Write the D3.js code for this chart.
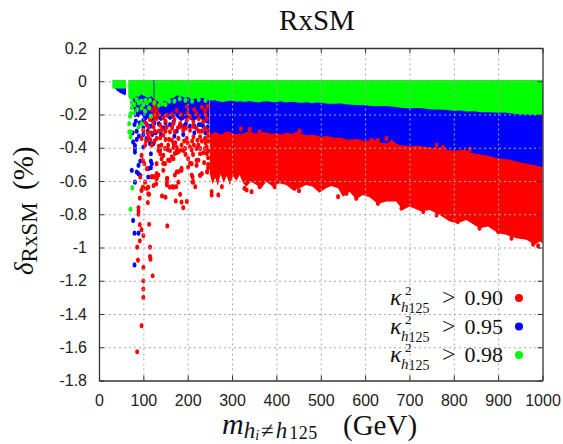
<!DOCTYPE html>
<html>
<head>
<meta charset="utf-8">
<script src="https://d3js.org/d3.v7.min.js"></script>
<style>
  body { margin: 0; background: #fff; }
  .tick text { font-family: "Liberation Sans", sans-serif; font-size: 16px; fill: #222; }
  .serif { font-family: "Liberation Serif", serif; fill: #111; }
</style>
</head>
<body>
<div id="chart"></div>
<script>
//Tick values
var xTicks = [0, 100, 200, 300, 400, 500, 600, 700, 800, 900, 1000];
var yTicks = [0.2, 0, -0.2, -0.4, -0.6, -0.8, -1, -1.2, -1.4, -1.6, -1.8];

//Solid bands, lower edge [mass, delta]
var greenLeft = [[30, -0.044], [61, -0.044]];
var greenMid = [[66, -0.095], [70, -0.11], [74, -0.115], [78, -0.1], [81, -0.105], [85, -0.09], [89, -0.095], [95, -0.08], [100, -0.085], [106, -0.095], [111, -0.1], [118, -0.09], [123, -0.105]];
var greenRight = [[125, -0.105], [132, -0.12], [138, -0.135], [146, -0.118], [153, -0.125], [160, -0.105], [168, -0.1], [175, -0.085], [186, -0.09], [194, -0.1], [201, -0.095], [208, -0.11], [216, -0.105], [228, -0.1], [239, -0.1], [250, -0.118], [262, -0.115], [270, -0.122], [280, -0.125], [290, -0.119], [300, -0.118], [310, -0.124], [318, -0.12], [330, -0.125], [338, -0.119], [345, -0.122], [360, -0.128], [370, -0.122], [380, -0.12], [390, -0.125], [400, -0.126], [410, -0.121], [420, -0.128], [430, -0.125], [440, -0.124], [450, -0.129], [460, -0.13], [470, -0.127], [480, -0.132], [490, -0.128], [500, -0.13], [515, -0.135], [530, -0.136], [545, -0.134], [560, -0.14], [580, -0.143], [600, -0.144], [615, -0.149], [630, -0.15], [645, -0.149], [660, -0.152], [680, -0.16], [700, -0.164], [715, -0.161], [730, -0.162], [745, -0.168], [760, -0.17], [780, -0.172], [800, -0.178], [815, -0.176], [830, -0.182], [845, -0.181], [860, -0.186], [880, -0.187], [900, -0.19], [915, -0.188], [930, -0.194], [945, -0.198], [960, -0.2], [980, -0.201], [1000, -0.204]];
var blueWedge = [[36, -0.044], [40, -0.055], [47, -0.069], [55, -0.08], [59, -0.085], [61, -0.075]];
var blueCluster = [[76, -0.12], [80, -0.19], [88, -0.22], [96, -0.2], [104, -0.24], [112, -0.22], [120, -0.25], [130, -0.22], [140, -0.24], [150, -0.21], [160, -0.235], [172, -0.21], [185, -0.24], [198, -0.22], [212, -0.24], [226, -0.22], [240, -0.25], [249, -0.26]];
var blueRight = [[250, -0.324], [262, -0.305], [275, -0.32], [290, -0.3], [305, -0.318], [318, -0.318], [330, -0.31], [340, -0.3], [350, -0.315], [360, -0.314], [370, -0.305], [380, -0.31], [390, -0.318], [400, -0.31], [410, -0.322], [420, -0.31], [435, -0.316], [450, -0.3], [460, -0.32], [470, -0.325], [485, -0.322], [500, -0.334], [515, -0.33], [530, -0.34], [545, -0.338], [560, -0.352], [580, -0.348], [600, -0.36], [620, -0.35], [635, -0.368], [650, -0.375], [660, -0.35], [670, -0.376], [680, -0.385], [700, -0.39], [720, -0.388], [740, -0.395], [755, -0.402], [770, -0.4], [785, -0.412], [800, -0.418], [825, -0.41], [840, -0.432], [860, -0.44], [880, -0.45], [900, -0.464], [925, -0.47], [950, -0.488], [975, -0.5], [990, -0.51], [1000, -0.518]];
var redRight = [[250, -0.56], [256, -0.62], [262, -0.58], [268, -0.63], [274, -0.56], [281, -0.61], [288, -0.57], [295, -0.625], [302, -0.57], [310, -0.6], [317, -0.564], [325, -0.614], [332, -0.634], [343, -0.604], [355, -0.624], [366, -0.644], [377, -0.604], [392, -0.634], [407, -0.614], [422, -0.624], [437, -0.654], [452, -0.644], [467, -0.624], [482, -0.634], [497, -0.67], [512, -0.644], [524, -0.63], [539, -0.644], [550, -0.694], [565, -0.664], [580, -0.71], [595, -0.684], [610, -0.698], [629, -0.738], [648, -0.724], [670, -0.724], [685, -0.774], [700, -0.754], [727, -0.784], [746, -0.774], [768, -0.804], [791, -0.844], [809, -0.854], [828, -0.834], [858, -0.884], [877, -0.874], [900, -0.914], [918, -0.924], [941, -0.944], [964, -0.954], [982, -0.984], [994, -0.964], [1000, -0.974]];
var bandTop = 0.008;
var redTop = -0.1;

//Scattered points [mass, delta]
var redPoints = [
  [86, -1.627], [96, -1.47], [100, -1.3], [100, -1.25], [100, -1.2], [121, -1.17], [100, -1.12], [88, -1.076], [116, -1.07], [115, -1.054],
  [86, -0.998], [115, -0.998], [92, -0.96], [100, -0.928], [96, -0.893], [92, -0.863], [113, -0.86], [154, -0.87], [89, -0.8], [89, -0.78], [89, -0.76],
  [110, -0.73], [92, -0.703], [113, -0.68], [142, -0.69], [150, -0.697], [173, -0.72], [186, -0.727], [198, -0.723], [190, -0.76], [183, -0.68],
  [96, -0.446], [99, -0.476], [102, -0.496], [108, -0.526], [93, -0.576], [119, -0.576], [130, -0.556], [130, -0.586], [104, -0.607], [111, -0.637],
  [99, -0.637], [96, -0.657], [111, -0.677], [141, -0.466], [138, -0.436], [145, -0.446], [134, -0.416], [149, -0.496], [160, -0.476], [168, -0.466],
  [160, -0.416], [175, -0.406], [190, -0.416], [145, -0.536], [153, -0.586], [153, -0.607], [160, -0.637], [168, -0.637], [179, -0.607], [175, -0.546],
  [186, -0.536], [201, -0.466], [209, -0.496], [220, -0.476], [220, -0.506], [228, -0.436], [232, -0.556], [228, -0.566], [244, -0.546], [211, -0.576],
  [211, -0.607], [201, -0.516], [130, -0.496], [123, -0.627], [129, -0.617],
  [145, -0.494], [156, -0.474], [164, -0.454], [171, -0.434], [179, -0.424], [194, -0.404], [209, -0.414], [220, -0.404], [239, -0.404], [243, -0.434],
  [205, -0.494], [224, -0.474], [179, -0.544], [186, -0.524], [171, -0.564], [209, -0.564], [213, -0.604], [217, -0.634], [228, -0.564], [244, -0.544],
  [154, -0.584], [153, -0.624], [166, -0.634], [174, -0.634], [134, -0.564], [130, -0.584], [123, -0.574], [100, -0.644], [96, -0.654], [119, -0.574], [108, -0.644],
  [168, -0.374], [175, -0.398], [183, -0.414], [138, -0.414], [149, -0.404], [156, -0.384], [228, -0.404], [214, -0.384],
  [130, -0.224], [153, -0.204], [175, -0.174], [198, -0.154], [220, -0.194], [239, -0.174], [243, -0.224], [235, -0.244], [213, -0.244], [198, -0.234],
  [183, -0.254], [168, -0.254], [153, -0.274], [138, -0.264], [123, -0.274], [111, -0.274], [100, -0.294], [239, -0.284], [220, -0.284], [205, -0.294],
  [190, -0.294], [171, -0.304], [160, -0.304], [145, -0.324], [130, -0.344], [111, -0.334], [96, -0.344], [239, -0.344], [228, -0.334], [213, -0.334],
  [198, -0.344], [179, -0.344], [164, -0.354], [119, -0.384], [104, -0.384], [243, -0.394], [224, -0.384], [205, -0.394], [186, -0.384], [168, -0.398],
  [141, -0.384], [126, -0.114], [126, -0.154], [126, -0.194], [123, -0.134], [130, -0.174],
  [135, -0.2], [145, -0.22], [165, -0.2], [185, -0.2], [205, -0.215], [225, -0.225], [115, -0.23], [105, -0.25], [240, -0.2], [150, -0.24],
  [170, -0.23], [200, -0.19], [215, -0.17], [232, -0.155], [245, -0.15], [118, -0.17], [120, -0.21], [122, -0.245], [127, -0.22],
  [110, -0.31], [118, -0.31], [126, -0.3], [135, -0.3], [142, -0.29], [150, -0.3], [165, -0.28], [178, -0.28], [186, -0.27], [196, -0.28],
  [212, -0.27], [225, -0.3], [232, -0.3], [246, -0.3], [246, -0.33], [246, -0.36], [240, -0.37], [232, -0.36], [222, -0.355], [210, -0.36],
  [200, -0.37], [192, -0.36], [172, -0.37], [158, -0.35], [150, -0.35], [138, -0.34], [125, -0.36], [115, -0.35], [106, -0.36], [135, -0.39],
  [155, -0.41], [175, -0.43], [195, -0.44], [212, -0.44], [235, -0.43], [246, -0.42], [246, -0.46], [246, -0.5], [246, -0.52], [237, -0.49],
  [254, -0.664], [254, -0.684], [269, -0.684], [277, -0.634], [333, -0.654], [344, -0.664],
  [328, -0.644], [362, -0.634], [396, -0.634], [441, -0.644], [451, -0.658], [539, -0.694], [558, -0.674], [580, -0.704],
  [629, -0.734], [682, -0.764], [731, -0.784], [761, -0.804], [809, -0.844], [858, -0.884], [900, -0.904], [930, -0.944], [979, -0.98], [990, -0.99],
  [362, -0.305], [452, -0.298], [648, -0.344], [836, -0.41], [614, -0.354], [629, -0.354], [761, -0.384], [776, -0.398], [320, -0.285], [340, -0.29]
];
var bluePoints = [
  [81, -0.385], [77, -0.365], [81, -0.406], [89, -0.506], [93, -0.48], [117, -0.48], [119, -0.496], [117, -0.52], [117, -0.436], [74, -0.536],
  [85, -0.546], [89, -0.556], [93, -0.566], [111, -0.526], [81, -0.607], [111, -0.576], [100, -0.396], [115, -0.375], [123, -0.375], [115, -0.355], [81, -0.426],
  [77, -0.837], [80, -0.914], [89, -0.914], [80, -1.105],
  [80, -0.26], [85, -0.3], [100, -0.28], [110, -0.3], [120, -0.32], [90, -0.33], [145, -0.28], [175, -0.3], [205, -0.27], [235, -0.27],
  [160, -0.26], [190, -0.27], [125, -0.25], [225, -0.26], [82, -0.2], [78, -0.15], [75, -0.13],
  [83, -0.24], [92, -0.25], [100, -0.235], [108, -0.26], [116, -0.27], [135, -0.255], [150, -0.25], [168, -0.245], [182, -0.27], [196, -0.255],
  [215, -0.27], [230, -0.26], [245, -0.275], [100, -0.32], [107, -0.345], [85, -0.35], [76, -0.31], [128, -0.31], [140, -0.32], [170, -0.33],
  [190, -0.32], [215, -0.31], [240, -0.31]
];
var greenPoints = [
  [71, -0.77], [75, -0.64], [71, -0.335], [68, -0.255], [71, -0.195], [72, -0.305], [68, -0.305], [89, -0.275], [96, -0.255], [117, -0.21],
  [74, -0.16], [80, -0.14], [90, -0.13], [100, -0.14], [108, -0.13], [125, -0.13], [150, -0.14], [170, -0.12],
  [85, -0.11], [95, -0.12], [105, -0.115], [115, -0.115], [135, -0.145], [143, -0.135], [158, -0.12], [182, -0.105], [195, -0.115], [210, -0.12],
  [225, -0.11], [240, -0.115], [75, -0.13], [70, -0.21], [79, -0.19], [86, -0.17], [96, -0.16], [104, -0.18], [113, -0.16]
];

//Legend rows
var legendLabels = ["0.90", "0.95", "0.98"];
var legendColors = ["#ff0000", "#0000ff", "#00ff00"];

var svgWidth = 563;
var svgHeight = 444;
var margin = { top: 48, bottom: 63.5, left: 99, right: 20.5 };
var chartWidth = svgWidth - margin.left - margin.right;
var chartHeight = svgHeight - margin.top - margin.bottom;

var svg = d3.select("#chart").append("svg")
    .attr("width", svgWidth)
    .attr("height", svgHeight)
    .style("display", "block");

var chartGroup = svg.append("g")
    .attr("transform", `translate(${margin.left}, ${margin.top})`);

var xScale = d3.scaleLinear().domain([0, 1000]).range([0, chartWidth]);
var yScale = d3.scaleLinear().domain([-1.8, 0.2]).range([chartHeight, 0]);

//Band drawn between a flat top and a read lower edge
function drawBand(edge, top, color) {
  var area = d3.area()
      .x(d => xScale(d[0]))
      .y0(yScale(top))
      .y1(d => yScale(d[1]));
  chartGroup.append("path").datum(edge)
      .attr("d", area)
      .attr("fill", color);
}

function drawPoints(points, color) {
  chartGroup.append("g").selectAll("ellipse")
      .data(points)
      .enter()
      .append("ellipse")
      .attr("cx", d => xScale(d[0]))
      .attr("cy", d => yScale(d[1]))
      .attr("rx", 2)
      .attr("ry", 2.6)
      .attr("fill", color);
}

//Same stacking as the picture: red, blue, green on top
drawBand(redRight, redTop, "#ff0000");
drawBand(blueCluster, bandTop, "#0000ff");
drawBand(blueRight, bandTop, "#0000ff");
drawBand(blueWedge, bandTop, "#0000ff");
drawPoints(bluePoints, "#0000ff");
drawPoints(redPoints, "#ff0000");
drawBand(greenLeft, bandTop, "#00ff00");
drawBand(greenMid, bandTop, "#00ff00");
drawBand(greenRight, bandTop, "#00ff00");
drawPoints(greenPoints, "#00ff00");

//Grid goes over the marks
var xGrid = chartGroup.append("g")
    .attr("transform", `translate(0, ${chartHeight})`)
    .call(d3.axisBottom(xScale).tickValues(xTicks.slice(1, -1)).tickSize(-chartHeight).tickFormat(""));
var yGrid = chartGroup.append("g")
    .call(d3.axisLeft(yScale).tickValues(yTicks.slice(1, -1)).tickSize(-chartWidth).tickFormat(""));
[xGrid, yGrid].forEach(function(grid) {
  grid.select(".domain").remove();
  grid.selectAll("line")
      .attr("stroke", "#a8a8a8")
      .attr("stroke-width", 1)
      .attr("stroke-dasharray", "2,3");
});

//Axes with short inward ticks on all four sides
var bottomAxis = d3.axisBottom(xScale).tickValues(xTicks).tickSizeInner(-5).tickSizeOuter(0).tickPadding(14).tickFormat(String);
var leftAxis = d3.axisLeft(yScale).tickValues(yTicks).tickSizeInner(-5).tickSizeOuter(0).tickPadding(12).tickFormat(String);
var topAxis = d3.axisTop(xScale).tickValues(xTicks).tickSizeInner(-5).tickSizeOuter(0).tickFormat("");
var rightAxis = d3.axisRight(yScale).tickValues(yTicks).tickSizeInner(-5).tickSizeOuter(0).tickFormat("");

var axes = [
  chartGroup.append("g").attr("transform", `translate(0, ${chartHeight})`).call(bottomAxis),
  chartGroup.append("g").call(leftAxis),
  chartGroup.append("g").call(topAxis),
  chartGroup.append("g").attr("transform", `translate(${chartWidth}, 0)`).call(rightAxis)
];
axes.forEach(function(axis) {
  axis.attr("font-family", null).attr("font-size", null);
  axis.selectAll("line").attr("stroke", "#333");
  axis.select(".domain").attr("stroke", "#333").attr("stroke-width", 1.3);
});

//Title
svg.append("text")
    .attr("class", "serif")
    .attr("x", 317)
    .attr("y", 30)
    .attr("text-anchor", "middle")
    .attr("font-size", 29)
    .text("RxSM");

//xAxis label
var xLabel = svg.append("text")
    .attr("class", "serif")
    .attr("x", 222)
    .attr("y", 434)
    .attr("font-size", 30);
xLabel.append("tspan").attr("font-style", "italic").text("m");
xLabel.append("tspan").attr("font-size", 23).attr("dy", 4).attr("font-style", "italic").text("h");
xLabel.append("tspan").attr("font-size", 14).attr("dy", 2).attr("font-style", "italic").text("i");
xLabel.append("tspan").attr("font-size", 23).attr("dy", -2).attr("dx", 2).text("≠");
xLabel.append("tspan").attr("font-size", 23).attr("font-style", "italic").attr("dx", 2).text("h");
xLabel.append("tspan").attr("font-size", 18).attr("dy", 1).attr("dx", 2).attr("letter-spacing", 0.5).text("125");
xLabel.append("tspan").attr("x", 343).attr("y", 435).attr("font-size", 29).text("(GeV)");

//yAxis label
var yLabel = svg.append("text")
    .attr("class", "serif")
    .attr("transform", "translate(33, 275) rotate(-90)")
    .attr("font-size", 27);
yLabel.append("tspan").attr("font-style", "italic").text("δ");
yLabel.append("tspan").attr("font-size", 23).attr("dy", 4).text("RxSM");
yLabel.append("tspan").attr("x", 85).attr("dy", -4).attr("font-size", 29).text("(%)");

//Legend
var legendRows = svg.append("g").selectAll("g")
    .data(legendLabels)
    .enter()
    .append("g")
    .attr("class", "serif")
    .attr("transform", (d, i) => `translate(390, ${305 + i * 28.5})`);

legendRows.append("text").attr("font-size", 24).attr("font-style", "italic").text("κ");
legendRows.append("text").attr("x", 15).attr("y", -10).attr("font-size", 13).text("2");
legendRows.append("text").attr("x", 11).attr("y", 7).attr("font-size", 15)
    .html('<tspan font-style="italic">h</tspan><tspan dy="1" font-size="14">125</tspan>');
legendRows.append("text").attr("x", 52).attr("font-size", 24).text(">");
legendRows.append("text").attr("x", 113).attr("text-anchor", "end").attr("font-size", 22)
    .text(d => d);
legendRows.append("circle")
    .attr("cx", 129)
    .attr("cy", -7)
    .attr("r", 4)
    .attr("fill", (d, i) => legendColors[i]);
</script>
</body>
</html>
